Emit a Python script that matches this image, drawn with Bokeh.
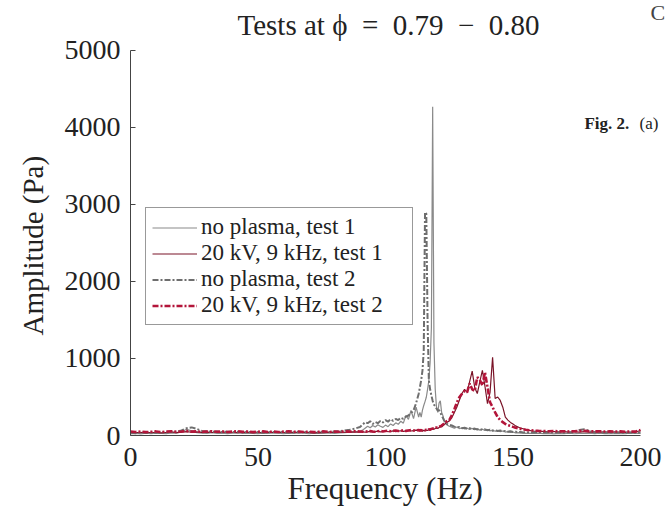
from bokeh.plotting import figure
from bokeh.models import Range1d, Legend, LegendItem, Label, FixedTicker, Title
from bokeh.embed import file_html
from bokeh.resources import INLINE

# Frequency (Hz)
freq = [0, 2, 4, 6, 8, 10, 12, 14, 16, 18, 20, 22, 24, 26, 28, 30, 32, 34, 36, 38,
        40, 42, 44, 46, 48, 50, 52, 54, 56, 58, 60, 62, 64, 66, 68, 70, 72, 74, 76, 78,
        80, 82, 84, 86, 88,
        90, 91, 92, 93, 94, 95, 96, 97, 98, 99, 100, 101, 102, 103, 104, 105, 106, 107,
        108, 109, 110, 111, 112, 113,
        113.5, 114, 114.5, 115, 115.5, 116, 116.5, 117, 117.5, 118, 118.5, 119, 119.5,
        120, 120.5, 121, 121.5, 122, 122.5, 123, 123.5, 124,
        125, 126, 127, 128, 129, 130, 131, 132, 133, 134, 135, 136, 137, 138, 139, 140,
        141, 142, 143, 144, 145, 146, 147, 148, 149, 150, 151, 152, 153, 154, 155, 156,
        158, 160, 162, 164, 166, 168, 170, 172, 174, 176, 178, 180, 182, 184, 186, 188,
        190, 192, 194, 196, 198, 200]

# no plasma, test 1 (Pa)
amp_noplasma_1 = [20, 28, 22, 30, 25, 32, 27, 24, 35, 30, 45, 80, 60, 38, 32, 28, 36, 27, 31, 25,
                  29, 34, 26, 31, 28, 24, 30, 27, 33, 29, 25, 31, 28, 34, 29, 25, 31, 27, 30, 33,
                  28, 34, 38, 42, 50,
                  55, 70, 95, 120, 100, 130, 110, 140, 120, 105, 135, 115, 150, 130, 165, 145,
                  185, 160, 260, 210, 325, 220, 368, 240,
                  300, 238, 330, 390, 440, 497, 600, 714, 950, 1400, 4270, 1200, 600, 368, 300,
                  420, 450, 303, 260, 190, 173, 140,
                  120, 108, 95, 110, 90, 100, 85, 95, 80, 92, 75, 88, 70, 82, 65, 78, 60, 72, 55,
                  65, 50, 58, 45, 50, 40, 45, 35, 38, 30, 32, 28, 30,
                  26, 30, 24, 28, 22, 27, 25, 30, 23, 28, 26, 31, 24, 29, 25, 28, 23, 27, 25, 30,
                  26, 28]

# 20 kV, 9 kHz, test 1 (Pa)
amp_plasma_1 = [45, 40, 38, 44, 36, 42, 35, 40, 46, 38, 44, 50, 42, 47, 40, 45, 39, 46, 41, 48,
                42, 38, 45, 40, 47, 41, 36, 43, 39, 45, 40, 36, 42, 38, 44, 39, 35, 41, 37, 44,
                40, 46, 42, 48, 45,
                44, 50, 42, 48, 53, 45, 50, 56, 47, 52, 58, 49, 54, 60, 51, 57, 62, 54, 60, 66,
                58, 64, 70, 62,
                58, 64, 60, 67, 62, 70, 66, 74, 70, 78, 85, 80, 90, 98, 92, 105, 115, 110, 125,
                140, 155, 170,
                190, 230, 300, 370, 460, 545, 600, 560, 700, 835, 620, 545, 700, 845, 640, 415,
                560, 1015, 480, 500, 455, 368, 238, 200, 170, 150, 125, 110, 95, 88, 76, 68,
                58, 52, 55, 48, 52, 46, 50, 44, 49, 45, 50, 44, 48, 43, 47, 42, 46, 41, 45, 40,
                44, 65]

# no plasma, test 2 (Pa)
amp_noplasma_2 = [35, 30, 38, 33, 40, 36, 42, 38, 45, 50, 65, 95, 105, 85, 60, 55, 48, 52, 45, 50,
                  44, 48, 42, 46, 40, 44, 38, 42, 47, 41, 45, 39, 43, 48, 42, 46, 40, 44, 49, 45,
                  52, 58, 65, 75, 90,
                  110, 140, 173, 160, 185, 150, 175, 160, 190, 170, 200, 180, 210, 190, 215, 200,
                  230, 215, 245, 260, 290, 325, 420, 540,
                  627, 720, 844, 1100, 2900, 2880, 1500, 714, 600, 520, 450, 400, 380, 350, 325,
                  330, 300, 260, 230, 195, 170, 150,
                  140, 130, 115, 105, 110, 95, 100, 88, 95, 82, 90, 78, 85, 72, 80, 68, 75, 62,
                  70, 58, 64, 55, 60, 50, 55, 46, 50, 44, 47, 40, 44, 38,
                  40, 44, 38, 42, 37, 41, 36, 40, 45, 70, 80, 60, 38, 42, 36, 40, 35, 39, 34, 38,
                  36, 40]

# 20 kV, 9 kHz, test 2 (Pa)
amp_plasma_2 = [50, 46, 52, 44, 48, 53, 45, 50, 55, 47, 52, 58, 50, 54, 47, 52, 56, 48, 53, 46,
                51, 55, 47, 52, 44, 49, 54, 46, 51, 45, 50, 55, 47, 52, 46, 50, 44, 49, 53, 46,
                51, 48, 54, 50, 56,
                52, 48, 55, 50, 57, 52, 49, 56, 60, 53, 58, 62, 55, 60, 64, 58, 62, 67, 60, 65,
                70, 64, 68, 72,
                66, 70, 64, 72, 68, 75, 71, 80, 76, 85, 90, 86, 95, 104, 100, 112, 120, 130, 142,
                155, 168, 185,
                200, 260, 340, 430, 500, 540, 575, 560, 675, 600, 580, 757, 720, 650, 820, 627,
                432, 368, 300, 238, 200, 173, 150, 135, 125, 112, 100, 92, 86, 80, 74, 70,
                64, 60, 58, 55, 58, 53, 56, 52, 55, 58, 62, 56, 53, 56, 51, 54, 50, 53, 49, 52,
                50, 70]

series_labels = ["no plasma, test 1", "20 kV, 9 kHz, test 1",
                 "no plasma, test 2", "20 kV, 9 kHz, test 2"]
x_ticks = [0, 50, 100, 150, 200]
y_ticks = [0, 1000, 2000, 3000, 4000, 5000]

FONT = "Liberation Serif"

# the frame reaches the top and right edges of the page so that page texts are not clipped;
# the axes themselves are bounded to 0-200 Hz and 0-5000 Pa
p = figure(width=666, height=517, output_backend="svg", toolbar_location=None,
           title=None,
           x_range=Range1d(0, 210.2), y_range=Range1d(0, 5649),
           min_border_left=130, min_border_right=0, min_border_top=0,
           min_border_bottom=82)

p.background_fill_color = "white"
p.border_fill_color = "white"
p.outline_line_color = None
p.xgrid.visible = False
p.ygrid.visible = False

r_np1 = p.line(freq, amp_noplasma_1, line_color="#8a8a8a", line_width=1.2)
r_pl1 = p.line(freq, amp_plasma_1, line_color="#7a1428", line_width=1.2)
r_np2 = p.line(freq, amp_noplasma_2, line_color="#6e6e6e", line_width=2.0,
               line_dash="6 2 2 2")
r_pl2 = p.line(freq, amp_plasma_2, line_color="#b3153a", line_width=2.6,
               line_dash="6 2 2 2")

# axes
for ax in (p.xaxis[0], p.yaxis[0]):
    ax.axis_line_color = "#444444"
    ax.axis_line_width = 1
    ax.minor_tick_line_color = None
    ax.major_label_text_font = FONT
    ax.major_label_text_font_size = "28px"
    ax.major_label_text_color = "#222222"

p.xaxis.bounds = (0, 200)
p.yaxis.bounds = (0, 5000)
p.xaxis.ticker = FixedTicker(ticks=x_ticks)
p.yaxis.ticker = FixedTicker(ticks=y_ticks)
p.xaxis.major_tick_in = 0
p.xaxis.major_tick_out = 0
p.yaxis.major_tick_in = 5
p.yaxis.major_tick_out = 0
p.yaxis.major_tick_line_color = "#444444"
p.xaxis.major_label_standoff = 12
p.yaxis.major_label_standoff = 10

# axis titles as side titles so that they can be placed along the axis spans
p.add_layout(Title(text="Frequency (Hz)", align="left", offset=157, standoff=0,
                   text_font=FONT, text_font_size="31px", text_font_style="normal",
                   text_color="#222222"), "below")
p.add_layout(Title(text="Amplitude (Pa)", align="left", offset=100, standoff=25,
                   text_font=FONT, text_font_size="29px", text_font_style="normal",
                   text_color="#222222"), "left")

legend = Legend(items=[LegendItem(label=series_labels[0], renderers=[r_np1]),
                       LegendItem(label=series_labels[1], renderers=[r_pl1]),
                       LegendItem(label=series_labels[2], renderers=[r_np2]),
                       LegendItem(label=series_labels[3], renderers=[r_pl2])],
                location=(15, 110), orientation="vertical",
                label_text_font=FONT, label_text_font_size="23px",
                label_text_color="#222222",
                label_height=25, glyph_height=25, glyph_width=45,
                label_width=205,
                label_standoff=4, spacing=0, padding=6, margin=0,
                border_line_color="#333333", border_line_width=1,
                background_fill_color="white", background_fill_alpha=1.0)
p.add_layout(legend)

# title and page texts
p.add_layout(Label(x=101.2, y=5325, text="Tests at ϕ\u2002=\u20020.79\u2002−\u20020.80",
                   text_font=FONT, text_font_size="29px", text_color="#222222",
                   text_align="center", text_baseline="middle"))
p.add_layout(Label(x=178.0, y=4052, text="Fig. 2.",
                   text_font=FONT, text_font_size="17px", text_font_style="bold",
                   text_color="#222222", text_align="left", text_baseline="middle"))
p.add_layout(Label(x=199.6, y=4052, text="(a)",
                   text_font=FONT, text_font_size="17px",
                   text_color="#222222", text_align="left", text_baseline="middle"))
p.add_layout(Label(x=203.9, y=5494, text="C",
                   text_font=FONT, text_font_size="22px",
                   text_color="#444444", text_align="left", text_baseline="middle"))

open("out.html", "w").write(file_html(p, INLINE))
